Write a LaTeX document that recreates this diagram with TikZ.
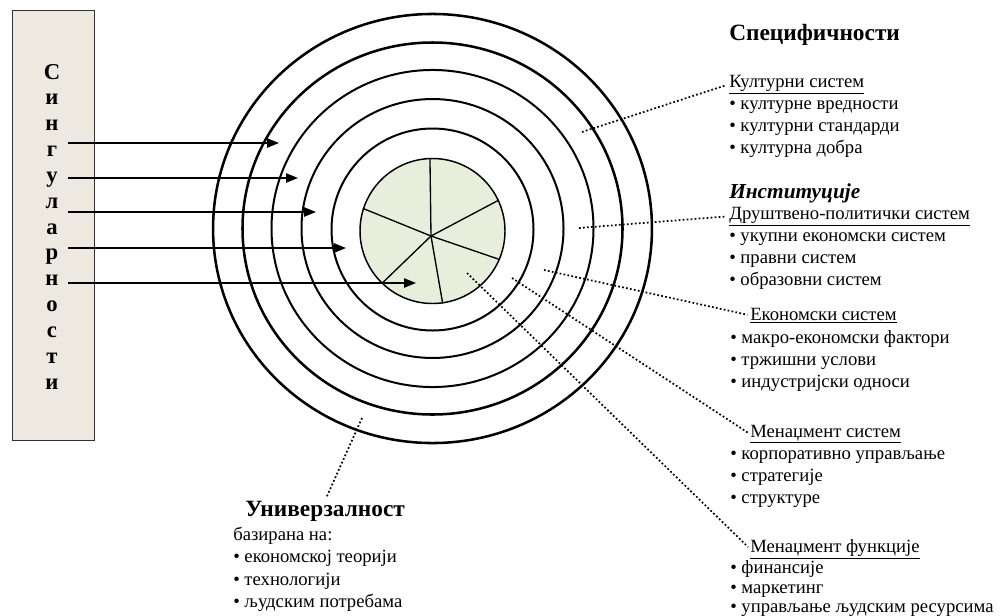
\documentclass[tikz,border=0pt]{standalone}
\usepackage{fontspec}
\setmainfont{Liberation Serif}
\usetikzlibrary{arrows.meta}
\definecolor{boxfill}{RGB}{237,233,224}
\definecolor{diskfill}{RGB}{232,238,220}

\begin{document}
\begin{tikzpicture}[x=0.75pt,y=-0.75pt,
  ring/.style={line width=1.5pt},
  outerring/.style={line width=1.9pt},
  feed/.style={line width=1.1pt,-{Triangle[length=9pt,width=7pt]}},
  leader/.style={line width=1.3pt,dash pattern=on 1.3pt off 1.7pt,shorten >=2pt},
  body/.style={anchor=base west,inner sep=0pt,font=\fontsize{14}{16}\selectfont},
  head/.style={anchor=base west,inner sep=0pt,font=\fontsize{17.5}{20}\selectfont\bfseries},
  letter/.style={anchor=base,inner sep=0pt,font=\fontsize{17}{19}\selectfont\bfseries}]
\useasboundingbox (0,0) rectangle (1002,615);

% vertical box with the spelled-out word
\node[draw=black!80,line width=1.1pt,fill=boxfill,anchor=north west,
      minimum width=61.5pt,minimum height=322.5pt,inner sep=0pt] (sing) at (12,10) {};
\foreach \ch [count=\i] in {С,и,н,г,у,л,а,р,н,о,с,т,и}
  \node[letter] (l\i) at (52,{79+25.85*(\i-1)}) {\ch};

% concentric rings
\draw[outerring] (432.5,228.5) ellipse [x radius=164.6pt,y radius=160.9pt];
\draw[outerring] (432.5,228.5) ellipse [x radius=142.5pt,y radius=139.5pt];
\draw[ring] (432.5,228.5) ellipse [x radius=120.75pt,y radius=118.9pt];
\draw[ring] (432.5,228.5) ellipse [x radius=98.25pt,y radius=97.1pt];
\draw[ring] (432.5,229.5) ellipse [x radius=75.75pt,y radius=75.75pt];

% core disk split into six sectors
\node[circle,draw,fill=diskfill,line width=1.1pt,minimum size=108.75pt,inner sep=0pt] (core) at (432.5,231) {};
\coordinate (hub) at (431,236);
\foreach \a in {92,25.5,-23.7,-82,-134,162}
  \draw[line width=1pt] (hub) -- (core.\a);

% arrows coming out of the box
\coordinate (s1) at (68,143); \coordinate (t1) at (279,143);
\coordinate (s2) at (68,178); \coordinate (t2) at (298,178);
\coordinate (s3) at (68,212); \coordinate (t3) at (316,212);
\coordinate (s4) at (68,248); \coordinate (t4) at (346,248);
\coordinate (s5) at (68,283); \coordinate (t5) at (416,283);
\foreach \i in {1,...,5} \draw[feed] (s\i) -- (t\i);

% right column
\node[head] (spec) at (729,40) {Специфичности};
\node[body] (kult) at (729,87) {\underline{Културни систем}};
\node[body] (k1) at (729,109) {• културне вредности};
\node[body] (k2) at (729,131) {• културни стандарди};
\node[body] (k3) at (729,153) {• културна добра};
\node[anchor=base west,inner sep=0pt,font=\fontsize{16}{18}\selectfont\bfseries\itshape] (inst) at (729,198) {Институције};
\node[body] (drus) at (729,219) {\underline{Друштвено-политички систем}};
\node[body] (d1) at (729,241) {• укупни економски систем};
\node[body] (d2) at (729,263) {• правни систем};
\node[body] (d3) at (729,285) {• образовни систем};

\node[body] (ekon) at (750,320) {\underline{Економски систем}};
\node[body] (e1) at (730,343) {• макро-економски фактори};
\node[body] (e2) at (730,365) {• тржишни услови};
\node[body] (e3) at (730,387) {• индустријски односи};

\node[body] (mens) at (750,437) {\underline{Менаџмент систем}};
\node[body] (m1) at (730,459) {• корпоративно управљање};
\node[body] (m2) at (730,481) {• стратегије};
\node[body] (m3) at (730,503) {• структуре};

\node[body] (menf) at (750,552) {\underline{Менаџмент функције}};
\node[body] (f1) at (730,573) {• финансије};
\node[body] (f2) at (730,593) {• маркетинг};
\node[body] (f3) at (730,612) {• управљање људским ресурсима};

% bottom-left block
\node[head] (univ) at (245,516) {Универзалност};
\node[body] (baz) at (233,540) {базирана на:};
\node[body] (u1) at (233,562) {• економској теорији};
\node[body] (u2) at (233,585) {• технологији};
\node[body] (u3) at (233,607) {• људским потребама};

% dotted leaders
\coordinate (p1) at (582,132);
\coordinate (p2) at (579,228);
\coordinate (p3) at (544,270);
\coordinate (p4) at (512,278);
\coordinate (p5) at (467,273);
\coordinate (p6) at (362,418);
\draw[leader] (p1) -- (kult.west);
\draw[leader] (p2) -- (drus.west);
\draw[leader] (p3) -- (ekon.west);
\draw[leader] (p4) -- (mens.west);
\draw[leader] (p5) -- (menf.west);
\draw[leader] (p6) -- (univ.north);
\end{tikzpicture}
\end{document}
